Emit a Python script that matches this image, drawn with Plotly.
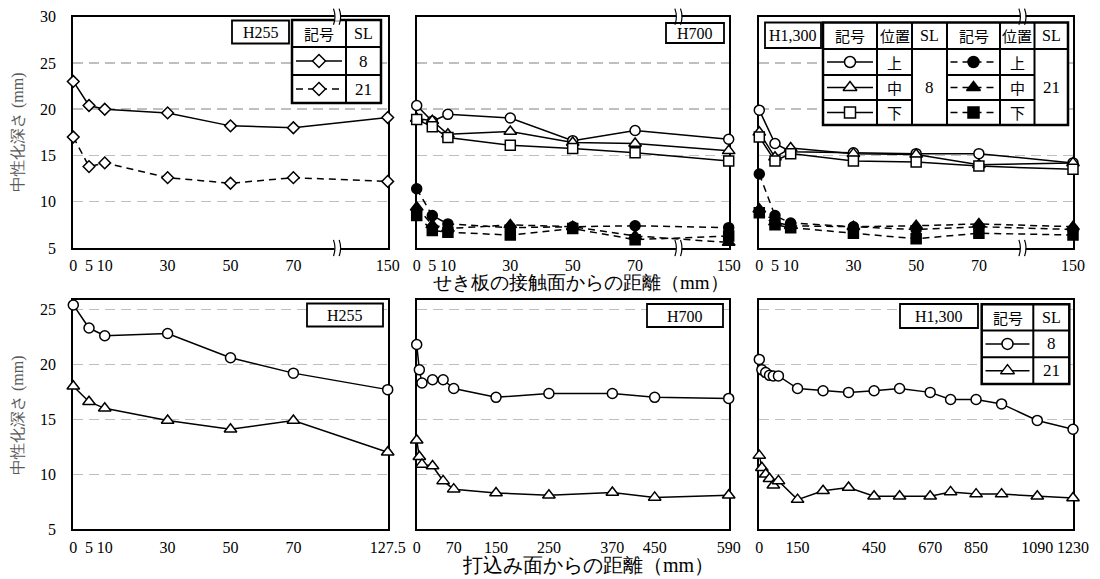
import plotly.graph_objects as go

W, H = 1100, 579

# ---------------- data ----------------
# top row: distance from the formwork contact face (mm)
top_dist = [0, 5, 10, 30, 50, 70, 150]
top_ticks = [0, 5, 10, 30, 50, 70, 150]

h255_top_sl8 = [23.0, 20.4, 20.0, 19.6, 18.2, 18.0, 19.1]
h255_top_sl21 = [17.0, 13.8, 14.2, 12.6, 12.0, 12.6, 12.2]

h700_top_sl8_up = [20.4, 18.7, 19.45, 19.05, 16.6, 17.7, 16.75]
h700_top_sl8_mid = [19.0, 18.75, 17.3, 17.6, 16.4, 16.3, 15.5]
h700_top_sl8_low = [18.9, 18.1, 16.95, 16.1, 15.75, 15.3, 14.4]
h700_top_sl21_up = [11.4, 8.5, 7.6, 7.2, 7.3, 7.4, 7.2]
h700_top_sl21_mid = [9.4, 7.5, 7.1, 7.5, 7.3, 6.3, 5.6]
h700_top_sl21_low = [8.5, 6.9, 6.7, 6.4, 7.1, 5.9, 6.3]

h1300_top_sl8_up = [19.9, 16.3, 15.4, 15.3, 15.2, 15.2, 14.2]
h1300_top_sl8_mid = [17.5, 14.8, 15.8, 15.2, 15.1, 14.0, 14.2]
h1300_top_sl8_low = [17.0, 14.4, 15.2, 14.4, 14.3, 13.85, 13.5]
h1300_top_sl21_up = [13.0, 8.5, 7.7, 7.3, 7.0, 7.3, 7.0]
h1300_top_sl21_mid = [9.2, 7.8, 7.4, 7.3, 7.4, 7.6, 7.3]
h1300_top_sl21_low = [8.8, 7.5, 7.2, 6.6, 6.0, 6.6, 6.4]

# bottom row: distance from the casting surface (mm)
bot255_dist = [0, 5, 10, 30, 50, 70, 127.5]
bot255_ticks = [0, 5, 10, 30, 50, 70, 127.5]
bot255_sl8 = [25.4, 23.3, 22.6, 22.8, 20.6, 19.2, 17.7]
bot255_sl21 = [18.0, 16.6, 16.0, 14.9, 14.1, 14.9, 12.0]

bot700_dist = [0, 5, 10, 30, 50, 70, 150, 250, 370, 450, 590]
bot700_ticks = [0, 70, 150, 250, 370, 450, 590]
bot700_sl8 = [21.8, 19.5, 18.3, 18.6, 18.6, 17.8, 17.0, 17.35, 17.35, 17.0, 16.9]
bot700_sl21 = [13.1, 11.6, 10.9, 10.75, 9.4, 8.65, 8.3, 8.1, 8.35, 7.9, 8.1]

bot1300_dist = [0, 10, 25, 40, 55, 75, 150, 250, 350, 450, 550, 670, 750, 850, 950, 1090, 1230]
bot1300_ticks = [0, 150, 450, 670, 850, 1090, 1230]
bot1300_sl8 = [20.45, 19.5, 19.25, 19.0, 18.95, 18.95, 17.8, 17.6, 17.45, 17.6, 17.8,
               17.45, 16.8, 16.8, 16.4, 14.9, 14.1]
bot1300_sl21 = [11.7, 10.6, 10.0, 9.6, 9.0, 9.4, 7.7, 8.5, 8.8, 8.0, 8.0, 8.0, 8.4,
                8.2, 8.2, 8.0, 7.85]

# broken axis: the last distance (beyond the break) is placed at axis position 100
BREAK_AT = 100


def brk(vals, last):
    return [v if v < last else BREAK_AT for v in vals]


# ---------------- layout geometry (pixels) ----------------
PX = [(73.3, 387.7), (416.7, 728.7), (759.3, 1073.0)]
TOP_Y = (16.7, 248.0)
BOT_Y = (300.0, 529.3)

SERIF = "Liberation Serif"
CJK = "Noto Sans CJK JP"

fig = go.Figure()


def xdom(i):
    a, b = PX[i]
    return [a / W, b / W]


def ydom(r):
    a, b = r
    return [1 - b / H, 1 - a / H]


def line_trace(xs, ys, ax, symbol, filled, dash, size):
    fig.add_trace(go.Scatter(
        x=xs, y=ys, mode="lines+markers", xaxis="x" + ax, yaxis="y" + ax,
        line=dict(color="black", width=1.5, dash=dash),
        marker=dict(symbol=symbol, size=size, color="black" if filled else "white",
                    line=dict(color="black", width=1.5)),
        cliponaxis=False, showlegend=False, hoverinfo="skip"))


DASH = "7px,5px"
SZ = dict(circle=10, diamond=9, square=10, **{"triangle-up": 11})

# top row
tx = brk(top_dist, 150)
line_trace(tx, h255_top_sl8, "", "diamond", False, "solid", SZ["diamond"])
line_trace(tx, h255_top_sl21, "", "diamond", False, DASH, SZ["diamond"])

for ax, sets in (("2", (h700_top_sl8_up, h700_top_sl8_mid, h700_top_sl8_low,
                        h700_top_sl21_up, h700_top_sl21_mid, h700_top_sl21_low)),
                 ("3", (h1300_top_sl8_up, h1300_top_sl8_mid, h1300_top_sl8_low,
                        h1300_top_sl21_up, h1300_top_sl21_mid, h1300_top_sl21_low))):
    syms = ["circle", "triangle-up", "square"]
    for k in range(3):
        line_trace(tx, sets[k], ax, syms[k], False, "solid", SZ[syms[k]])
    for k in range(3):
        line_trace(tx, sets[3 + k], ax, syms[k], True, DASH, SZ[syms[k]])

# bottom row
bx = brk(bot255_dist, 127.5)
line_trace(bx, bot255_sl8, "4", "circle", False, "solid", SZ["circle"])
line_trace(bx, bot255_sl21, "4", "triangle-up", False, "solid", SZ["triangle-up"])
line_trace(bot700_dist, bot700_sl8, "5", "circle", False, "solid", SZ["circle"])
line_trace(bot700_dist, bot700_sl21, "5", "triangle-up", False, "solid", SZ["triangle-up"])
line_trace(bot1300_dist, bot1300_sl8, "6", "circle", False, "solid", SZ["circle"])
line_trace(bot1300_dist, bot1300_sl21, "6", "triangle-up", False, "solid", SZ["triangle-up"])

# ---------------- axes ----------------
common_x = dict(showline=True, linecolor="black", linewidth=2, mirror=True,
                showgrid=False, zeroline=False, ticks="", layer="below traces",
                tickfont=dict(family=SERIF, size=16, color="black"),
                ticklabelstandoff=2, automargin=False)
common_y = dict(showline=True, linecolor="black", linewidth=2, mirror=True,
                showgrid=True, gridcolor="#bfbfbf", gridwidth=1.5, griddash="10px,6px",
                zeroline=False, ticks="", layer="below traces",
                tickfont=dict(family=SERIF, size=16, color="black"),
                ticklabelstandoff=12, automargin=False)

lay = {}
names = ["", "2", "3", "4", "5", "6"]
for i, n in enumerate(names):
    col = i % 3
    row = i // 3
    xa = dict(common_x, domain=xdom(col), anchor="y" + n)
    ya = dict(common_y, domain=ydom(TOP_Y if row == 0 else BOT_Y), anchor="x" + n)
    if row == 0:
        xa.update(range=[0, 100], tickmode="array", tickvals=brk(top_ticks, 150),
                  ticktext=[str(v) for v in top_ticks])
        ya.update(range=[5, 30], tickmode="array", tickvals=[5, 10, 15, 20, 25, 30])
    else:
        ya.update(range=[5, 25.85], tickmode="array", tickvals=[5, 10, 15, 20, 25])
        if col == 0:
            xa.update(range=[0, 100], tickmode="array", tickvals=brk(bot255_ticks, 127.5),
                      ticktext=[str(v) for v in bot255_ticks])
        elif col == 1:
            xa.update(range=[0, 590], tickmode="array", tickvals=bot700_ticks,
                      ticktext=[str(v) for v in bot700_ticks])
        else:
            xa.update(range=[0, 1230], tickmode="array", tickvals=bot1300_ticks,
                      ticktext=[str(v) for v in bot1300_ticks])
    if col != 0:
        ya["showticklabels"] = False
    lay["xaxis" + n] = xa
    lay["yaxis" + n] = ya

# overlay pixel-space subplot for legend tables and labels
lay["xaxis7"] = dict(domain=[0, 1], range=[0, W], visible=False, anchor="y7",
                     fixedrange=True, automargin=False)
lay["yaxis7"] = dict(domain=[0, 1], range=[H, 0], visible=False, anchor="x7",
                     fixedrange=True, automargin=False)

shapes = []
annots = []


def rect(x0, x1, y0, y1, lw=2):
    shapes.append(dict(type="rect", xref="x7", yref="y7", x0=x0, x1=x1, y0=y0, y1=y1,
                       fillcolor="white", line=dict(color="black", width=lw), layer="between"))


def seg(x0, y0, x1, y1, lw=2):
    shapes.append(dict(type="line", xref="x7", yref="y7", x0=x0, x1=x1, y0=y0, y1=y1,
                       line=dict(color="black", width=lw), layer="between"))


def txt(x, y, s, size=15, family=SERIF, color="black"):
    annots.append(dict(xref="x7", yref="y7", x=x, y=y, text=s, showarrow=False,
                       font=dict(family=family, size=size, color=color),
                       xanchor="center", yanchor="middle"))


def sample(xc, yc, half, symbol, filled, dash):
    fig.add_trace(go.Scatter(x=[xc - half, xc + half], y=[yc, yc], mode="lines",
                             xaxis="x7", yaxis="y7",
                             line=dict(color="black", width=1.5, dash=dash),
                             showlegend=False, hoverinfo="skip"))
    fig.add_trace(go.Scatter(x=[xc], y=[yc], mode="markers", xaxis="x7", yaxis="y7",
                             marker=dict(symbol=symbol, size=SZ[symbol] + 1,
                                         color="black" if filled else "white",
                                         line=dict(color="black", width=1.5)),
                             showlegend=False, hoverinfo="skip"))


# panel label boxes
for lab, x0, x1, y0, y1 in (("H255", 232, 289, 20.5, 43.5), ("H700", 666, 724, 23, 43),
                            ("H1,300", 765, 821, 22.5, 48), ("H255", 307, 383, 303.5, 326.5),
                            ("H700", 647, 723, 304, 327), ("H1,300", 900, 978, 304, 328)):
    rect(x0, x1, y0, y1, 1.8)
    txt((x0 + x1) / 2, (y0 + y1) / 2 + 0.5, lab, 16)

# table 1 (top-left)
rect(292, 381, 20, 103, 2.5)
seg(346, 20, 346, 103)
seg(292, 47, 381, 47)
seg(292, 75, 381, 75)
txt(319, 33.5, "記号", 15, CJK, "black")
txt(363.5, 33.5, "SL", 16)
txt(363.5, 61, "8", 17)
txt(363.5, 89, "21", 17)
sample(319, 61, 23, "diamond", False, "solid")
sample(319, 89, 23, "diamond", False, DASH)

# table 2 (top-right)
xe = [823, 877, 912, 947, 1000, 1034.5, 1068]
ye = [22.5, 49, 75, 100, 125]
rect(xe[0], xe[-1], ye[0], ye[-1], 2.5)
for xv in xe[1:-1]:
    seg(xv, ye[0], xv, ye[-1])
seg(xe[0], ye[1], xe[-1], ye[1])
for yv in ye[2:4]:
    seg(xe[0], yv, xe[2], yv)
    seg(xe[3], yv, xe[5], yv)
hy = (ye[0] + ye[1]) / 2
for j, s in enumerate(["記号", "位置", "SL", "記号", "位置", "SL"]):
    if s == "SL":
        txt((xe[j] + xe[j + 1]) / 2, hy, s, 16)
    else:
        txt((xe[j] + xe[j + 1]) / 2, hy, s, 15, CJK, "black")
pos_names = ["上", "中", "下"]
syms = ["circle", "triangle-up", "square"]
for k in range(3):
    yc = (ye[k + 1] + ye[k + 2]) / 2
    txt((xe[1] + xe[2]) / 2, yc, pos_names[k], 15, CJK, "black")
    txt((xe[4] + xe[5]) / 2, yc, pos_names[k], 15, CJK, "black")
    sample((xe[0] + xe[1]) / 2, yc, 23, syms[k], False, "solid")
    sample((xe[3] + xe[4]) / 2, yc, 23, syms[k], True, DASH)
txt((xe[2] + xe[3]) / 2, (ye[1] + ye[-1]) / 2, "8", 17)
txt((xe[5] + xe[6]) / 2, (ye[1] + ye[-1]) / 2, "21", 17)

# table 3 (bottom-right)
bxe = [981.7, 1033.3, 1069.3]
bye = [304.3, 330.5, 357.3, 384]
rect(bxe[0], bxe[-1], bye[0], bye[-1], 2.5)
seg(bxe[1], bye[0], bxe[1], bye[-1])
seg(bxe[0], bye[1], bxe[-1], bye[1])
seg(bxe[0], bye[2], bxe[-1], bye[2])
txt((bxe[0] + bxe[1]) / 2, (bye[0] + bye[1]) / 2, "記号", 15, CJK, "black")
txt((bxe[1] + bxe[2]) / 2, (bye[0] + bye[1]) / 2, "SL", 16)
txt((bxe[1] + bxe[2]) / 2, (bye[1] + bye[2]) / 2, "8", 17)
txt((bxe[1] + bxe[2]) / 2, (bye[2] + bye[3]) / 2, "21", 17)
sample((bxe[0] + bxe[1]) / 2, (bye[1] + bye[2]) / 2, 22, "circle", False, "solid")
sample((bxe[0] + bxe[1]) / 2, (bye[2] + bye[3]) / 2, 22, "triangle-up", False, "solid")

# axis titles
for yc in (132, 415):
    annots.append(dict(xref="x7", yref="y7", x=18, y=yc, text="中性化深さ (mm)", textangle=-90,
                       showarrow=False, font=dict(family=SERIF, size=16, color="#595959")))
txt(581, 282, "せき板の接触面からの距離（mm）", 19)
txt(588, 565, "打込み面からの距離（mm）", 20)

# axis break marks on the top row
BRK = 84
for n in ["", "2", "3"]:
    for yc in (0, 1):
        shapes.append(dict(type="rect", xref="x" + n, yref=("y" + n + " domain"),
                           x0=BRK - 0.9, x1=BRK + 0.9, y0=yc - 0.018, y1=yc + 0.018,
                           fillcolor="white", line=dict(width=0), layer="above"))
        for xo in (BRK - 0.9, BRK + 0.9):
            shapes.append(dict(type="path", xref="x" + n, yref=("y" + n + " domain"),
                               path=f"M {xo - 0.35},{yc + 0.035} Q {xo + 0.6},{yc} {xo - 0.35},{yc - 0.035}",
                               line=dict(color="black", width=1.2), layer="above"))

fig.update_layout(**lay)
fig.update_layout(width=W, height=H,
                  margin=dict(l=0, r=0, t=0, b=0, pad=0, autoexpand=False),
                  paper_bgcolor="white", plot_bgcolor="rgba(0,0,0,0)",
                  shapes=shapes, annotations=annots, showlegend=False)

fig.write_html("out.html", config={"displayModeBar": False, "staticPlot": True},
               post_script="document.body.style.margin='0';document.body.style.overflow='hidden';")
